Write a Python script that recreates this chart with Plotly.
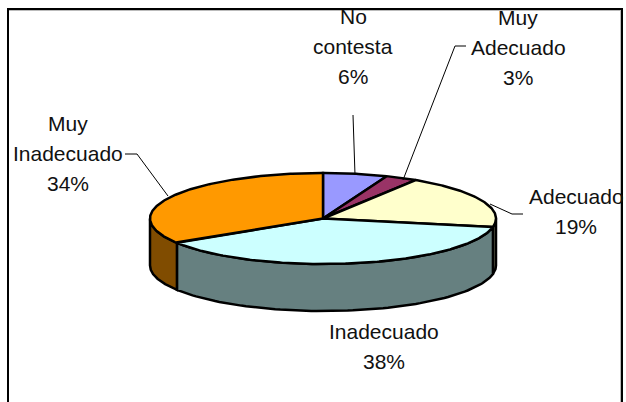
import numpy as np
import plotly.graph_objects as go

# Data
categories = ["No contesta", "Muy Adecuado", "Adecuado", "Inadecuado", "Muy Inadecuado"]
values = [6, 3, 19, 38, 34]
top_colors = ["#9999FF", "#993366", "#FFFFCC", "#CCFFFF", "#FF9900"]
side_colors = ["#4C4C80", "#4C1933", "#808066", "#668080", "#804C00"]
label_lines = [["No", "contesta", "6%"], ["Muy", "Adecuado", "3%"], ["Adecuado", "19%"],
               ["Inadecuado", "38%"], ["Muy", "Inadecuado", "34%"]]

# Layout (pixel-space axes)
W, H = 626, 402
CX, CY, RX, RY, DEPTH = 323, 218.5, 173, 45.5, 47
FRAME = (8, 9, 622, 420)
label_pos = [(353, 16), (518, 17), (576, 196), (384, 331), (68, 123)]
LINE_STEP = 30
leaders = [
    [(353, 115), (355, 175)],
    [(466, 46), (455, 46), (403, 180)],
    [(490, 204), (512, 214), (523, 214)],
    None,
    [(125, 154), (137, 154), (168, 196)],
]


def ellipse(t_deg, dy=0.0):
    t = np.radians(t_deg)
    return CX + RX * np.sin(t), CY - RY * np.cos(t) + dy


fig = go.Figure()


def poly(x, y, fill):
    fig.add_trace(go.Scatter(x=list(x), y=list(y), mode="lines", fill="toself", fillcolor=fill,
                             line=dict(color="black", width=2.5), hoverinfo="skip", showlegend=False))


edges = np.concatenate([[0], np.cumsum(values)]) * 3.6

# Side walls: only the arc facing the viewer (90 to 270 degrees)
for i in range(len(values)):
    a, b = max(edges[i], 90), min(edges[i + 1], 270)
    if a >= b:
        continue
    t = np.linspace(a, b, 80)
    x1, y1 = ellipse(t)
    x2, y2 = ellipse(t[::-1], DEPTH)
    poly(np.r_[x1, x2, x1[0]], np.r_[y1, y2, y1[0]], side_colors[i])

# Top faces
for i in range(len(values)):
    t = np.linspace(edges[i], edges[i + 1], max(int(values[i] * 6), 12))
    x, y = ellipse(t)
    poly(np.r_[CX, x, CX], np.r_[CY, y, CY], top_colors[i])

# Leader lines
for seg in leaders:
    if seg:
        fig.add_trace(go.Scatter(x=[p[0] for p in seg], y=[p[1] for p in seg], mode="lines",
                                 line=dict(color="black", width=1), hoverinfo="skip", showlegend=False))

# Labels: one annotation per text line to keep the reference's line pitch
annotations = []
for (lx, ly), lines in zip(label_pos, label_lines):
    for k, txt in enumerate(lines):
        annotations.append(dict(x=lx, y=ly + k * LINE_STEP, text=txt, showarrow=False,
                                xanchor="center", yanchor="middle",
                                font=dict(family="Liberation Sans", size=21, color="#111111")))

frame_line = dict(color="black", width=2)
inner_line = dict(color="#BBBBBB", width=1)
fig.update_layout(
    width=W, height=H, margin=dict(l=0, r=0, t=0, b=0),
    paper_bgcolor="white", plot_bgcolor="white", showlegend=False,
    xaxis=dict(range=[0, W], visible=False, fixedrange=True),
    yaxis=dict(range=[H, 0], visible=False, fixedrange=True),
    annotations=annotations,
    shapes=[
        dict(type="line", xref="x", yref="y", x0=FRAME[0], y0=FRAME[1] + 1.5, x1=FRAME[2], y1=FRAME[1] + 1.5,
             line=inner_line, layer="below"),
        dict(type="line", xref="x", yref="y", x0=FRAME[2] - 1.5, y0=FRAME[1], x1=FRAME[2] - 1.5, y1=FRAME[3],
             line=inner_line, layer="below"),
        dict(type="rect", xref="x", yref="y", x0=FRAME[0], y0=FRAME[1], x1=FRAME[2], y1=FRAME[3],
             line=frame_line, layer="below"),
    ],
)
fig.write_html("out.html", config={"displayModeBar": False},
               post_script="document.body.style.margin='0';document.documentElement.style.overflow='hidden';")
